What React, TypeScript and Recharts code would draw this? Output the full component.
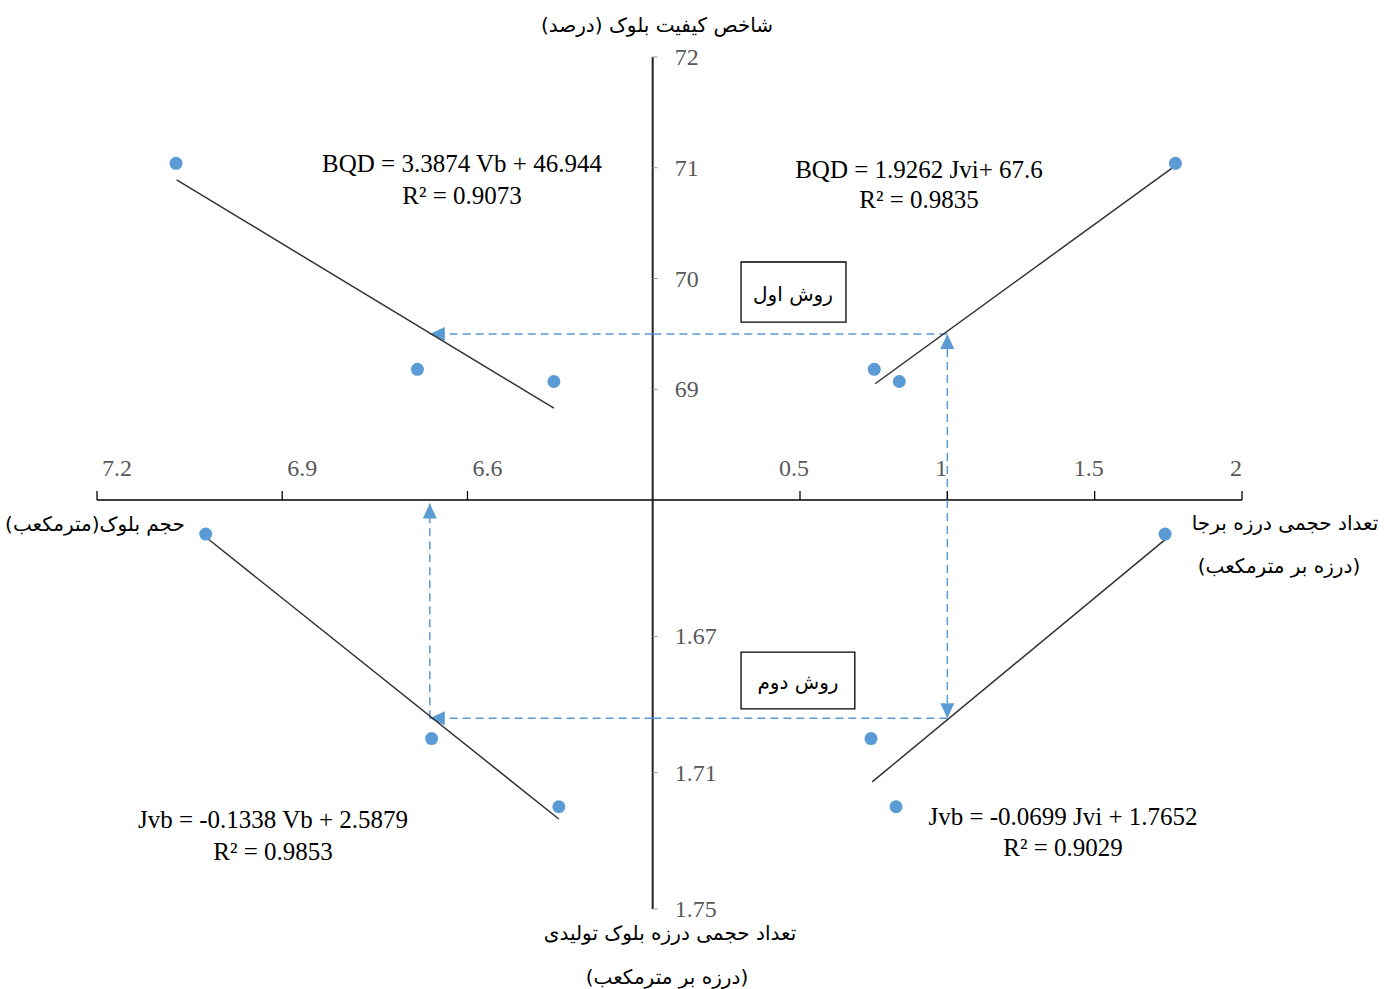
import React from 'react';
import {
  ComposedChart,
  XAxis,
  YAxis,
  Scatter,
  ReferenceLine,
  ReferenceDot,
  ReferenceArea,
} from 'recharts';

// ---------- data ----------
// upper half: block quality designation (BQD, %)
const bqdValues = [71.04, 69.18, 69.07];
const jviUpper = [1.774, 0.752, 0.837]; // in-situ volumetric joint count
const vbUpper = [7.072, 6.681, 6.46]; // block volume (m3)
// lower half: volumetric joint count of produced block (Jvb)
const jvbValues = [1.64, 1.7, 1.72];
const jviLower = [1.739, 0.741, 0.826];
const vbLower = [7.024, 6.658, 6.452];

// trend line end points
const trendBqdJvi = [
  { jvi: 0.755, bqd: 69.05 },
  { jvi: 1.774, bqd: 71.02 },
];
const trendBqdVb = [
  { vb: 7.071, bqd: 70.89 },
  { vb: 6.46, bqd: 68.83 },
];
const trendJvbJvi = [
  { jvi: 0.745, jvb: 1.7127 },
  { jvi: 1.742, jvb: 1.6414 },
];
const trendJvbVb = [
  { vb: 7.023, jvb: 1.641 },
  { vb: 6.452, jvb: 1.7236 },
];

// worked example (dashed arrows)
const pickJvi = 1.0;
const pickBqd = 69.5;
const pickJvb = 1.694;
const pickVb = 6.661;

// axis origin values
const bqdOrigin = 68;
const jvbOrigin = 1.63;
const jviOrigin = 0;
const vbOrigin = 6.3;

// tick labels
const bqdTicks = [69, 70, 71, 72];
const jvbTicks = [1.67, 1.71, 1.75];
const jviTicks = [0.5, 1, 1.5, 2];
const vbTicks = [6.6, 6.9, 7.2];

// method boxes
const method1Box = { jvi1: 0.3, jvi2: 0.656, bqd1: 70.149, bqd2: 69.607 };
const method2Box = { jvi1: 0.3, jvi2: 0.686, jvb1: 1.6746, jvb2: 1.6913 };

// texts
const titleTop = 'شاخص کیفیت بلوک (درصد)';
const titleLeft = 'حجم بلوک(مترمکعب)';
const titleRight1 = 'تعداد حجمی درزه برجا';
const titleRight2 = '(درزه بر مترمکعب)';
const titleBottom1 = 'تعداد حجمی درزه بلوک تولیدی';
const titleBottom2 = '(درزه بر مترمکعب)';
const method1Label = 'روش اول';
const method2Label = 'روش دوم';
const eqTL = ['BQD = 3.3874 Vb + 46.944', 'R² = 0.9073'];
const eqTR = ['BQD = 1.9262 Jvi+ 67.6', 'R² = 0.9835'];
const eqBL = ['Jvb = -0.1338 Vb + 2.5879', 'R² = 0.9853'];
const eqBR = ['Jvb = -0.0699 Jvi + 1.7652', 'R² = 0.9029'];

// ---------- build point tables ----------
const ptsBqdJvi = bqdValues.map((b, i) => ({ jvi: jviUpper[i], bqd: b }));
const ptsBqdVb = bqdValues.map((b, i) => ({ vb: vbUpper[i], bqd: b }));
const ptsJvbJvi = jvbValues.map((j, i) => ({ jvi: jviLower[i], jvb: j }));
const ptsJvbVb = jvbValues.map((j, i) => ({ vb: vbLower[i], jvb: j }));

// ---------- layout ----------
const W = 1390;
const H = 989;
const MARGIN = { top: 57, right: 148, bottom: 80, left: 97 };
const CROSS_X = 0.4853; // fraction of plot width where the axes cross
const CROSS_Y = 0.52; // fraction of plot height where the axes cross
const jviDomain = [-2 * CROSS_X / (1 - CROSS_X), 2];
const vbDomain = [7.2 - 0.9 / CROSS_X, 7.2];
const bqdDomain = [72 - 4 / CROSS_Y, 72];
const jvbDomain = [1.5, 1.75];

const BLUE = '#5B9BD5';
const SERIF = "'Liberation Serif', 'Times New Roman', serif";
const FA = "'DejaVu Sans', sans-serif";

const Dot = (p: any) => <circle cx={p.cx} cy={p.cy} r={6.5} fill={BLUE} />;
const NoDot = () => <g />;

const arrow = (dir: 'up' | 'down' | 'left') => (p: any) => {
  const { cx, cy } = p;
  let pts = '';
  if (dir === 'up') pts = `${cx},${cy} ${cx - 7},${cy + 15} ${cx + 7},${cy + 15}`;
  if (dir === 'down') pts = `${cx},${cy} ${cx - 7},${cy - 15} ${cx + 7},${cy - 15}`;
  if (dir === 'left') pts = `${cx},${cy} ${cx + 15},${cy - 7} ${cx + 15},${cy + 7}`;
  return <polygon points={pts} fill={BLUE} />;
};

const hTick = (label: string, dx: number) => (p: any) => (
  <g>
    <line x1={p.cx} y1={p.cy} x2={p.cx} y2={p.cy - 9} stroke="#000" strokeWidth={1.3} />
    <text
      x={p.cx + dx}
      y={p.cy - 32}
      textAnchor="middle"
      dominantBaseline="central"
      fontFamily={SERIF}
      fontSize={24}
      fill="#595959"
    >
      {label}
    </text>
  </g>
);

const vTick = (label: string) => (p: any) => (
  <g>
    <line x1={p.cx} y1={p.cy} x2={p.cx + 5} y2={p.cy} stroke="#999" strokeWidth={1} />
    <text
      x={p.cx + 22}
      y={p.cy}
      textAnchor="start"
      dominantBaseline="central"
      fontFamily={SERIF}
      fontSize={24}
      fill="#595959"
    >
      {label}
    </text>
  </g>
);

const T = ({ x, y, children, fa, size }: any) => (
  <div
    style={{
      position: 'absolute',
      left: x,
      top: y,
      transform: 'translate(-50%, -50%)',
      whiteSpace: 'nowrap',
      lineHeight: 1,
      fontFamily: fa ? FA : SERIF,
      fontSize: size || 25,
      color: '#000',
      direction: fa ? 'rtl' : 'ltr',
    }}
  >
    {children}
  </div>
);

const dash = { stroke: BLUE, strokeWidth: 1.5, strokeDasharray: '8 5' };

export default function App() {
  return (
    <div style={{ position: 'relative', width: W, height: H, background: '#fff' }}>
      <style>{'body{margin:0;}'}</style>
      <ComposedChart width={W} height={H} margin={MARGIN}>
        <XAxis xAxisId="jvi" dataKey="jvi" type="number" domain={jviDomain} allowDataOverflow hide />
        <XAxis xAxisId="vb" dataKey="vb" type="number" domain={vbDomain} reversed allowDataOverflow hide />
        <YAxis yAxisId="bqd" dataKey="bqd" type="number" domain={bqdDomain} allowDataOverflow hide />
        <YAxis yAxisId="jvb" dataKey="jvb" type="number" domain={jvbDomain} reversed allowDataOverflow hide />

        {/* method boxes */}
        <ReferenceArea
          xAxisId="jvi"
          yAxisId="bqd"
          x1={method1Box.jvi1}
          x2={method1Box.jvi2}
          y1={method1Box.bqd1}
          y2={method1Box.bqd2}
          fill="#fff"
          fillOpacity={1}
          stroke="#000"
          strokeWidth={1.3}
          ifOverflow="visible"
        />
        <ReferenceArea
          xAxisId="jvi"
          yAxisId="jvb"
          x1={method2Box.jvi1}
          x2={method2Box.jvi2}
          y1={method2Box.jvb1}
          y2={method2Box.jvb2}
          fill="#fff"
          fillOpacity={1}
          stroke="#000"
          strokeWidth={1.3}
          ifOverflow="visible"
        />

        {/* central axes */}
        <ReferenceLine xAxisId="jvi" yAxisId="bqd" y={bqdOrigin} stroke="#000" strokeWidth={1.5} ifOverflow="visible" />
        <ReferenceLine xAxisId="jvi" yAxisId="bqd" x={jviOrigin} stroke="#222" strokeWidth={2} ifOverflow="visible" />

        {/* ticks */}
        {jviTicks.map((t) => (
          <ReferenceDot key={'jt' + t} xAxisId="jvi" yAxisId="bqd" x={t} y={bqdOrigin} ifOverflow="visible" shape={hTick(String(t), -6)} />
        ))}
        {vbTicks.map((t) => (
          <ReferenceDot key={'vt' + t} xAxisId="vb" yAxisId="bqd" x={t} y={bqdOrigin} ifOverflow="visible" shape={hTick(String(t), 20)} />
        ))}
        {bqdTicks.map((t) => (
          <ReferenceDot key={'bt' + t} xAxisId="jvi" yAxisId="bqd" x={jviOrigin} y={t} ifOverflow="visible" shape={vTick(String(t))} />
        ))}
        {jvbTicks.map((t) => (
          <ReferenceDot key={'jb' + t} xAxisId="jvi" yAxisId="jvb" x={jviOrigin} y={t} ifOverflow="visible" shape={vTick(String(t))} />
        ))}

        {/* dashed example paths */}
        <ReferenceLine xAxisId="jvi" yAxisId="bqd" segment={[{ x: pickJvi, y: bqdOrigin }, { x: pickJvi, y: pickBqd }]} {...dash} ifOverflow="visible" />
        <ReferenceLine xAxisId="jvi" yAxisId="bqd" segment={[{ x: pickJvi, y: pickBqd }, { x: jviOrigin, y: pickBqd }]} {...dash} ifOverflow="visible" />
        <ReferenceLine xAxisId="vb" yAxisId="bqd" segment={[{ x: vbOrigin, y: pickBqd }, { x: pickVb, y: pickBqd }]} {...dash} ifOverflow="visible" />
        <ReferenceLine xAxisId="jvi" yAxisId="jvb" segment={[{ x: pickJvi, y: jvbOrigin }, { x: pickJvi, y: pickJvb }]} {...dash} ifOverflow="visible" />
        <ReferenceLine xAxisId="jvi" yAxisId="jvb" segment={[{ x: pickJvi, y: pickJvb }, { x: jviOrigin, y: pickJvb }]} {...dash} ifOverflow="visible" />
        <ReferenceLine xAxisId="vb" yAxisId="jvb" segment={[{ x: vbOrigin, y: pickJvb }, { x: pickVb, y: pickJvb }]} {...dash} ifOverflow="visible" />
        <ReferenceLine xAxisId="vb" yAxisId="jvb" segment={[{ x: pickVb, y: pickJvb }, { x: pickVb, y: 1.631 }]} {...dash} ifOverflow="visible" />

        {/* arrow heads */}
        <ReferenceDot xAxisId="jvi" yAxisId="bqd" x={pickJvi} y={pickBqd} ifOverflow="visible" shape={arrow('up')} />
        <ReferenceDot xAxisId="vb" yAxisId="bqd" x={pickVb} y={pickBqd} ifOverflow="visible" shape={arrow('left')} />
        <ReferenceDot xAxisId="jvi" yAxisId="jvb" x={pickJvi} y={pickJvb} ifOverflow="visible" shape={arrow('down')} />
        <ReferenceDot xAxisId="vb" yAxisId="jvb" x={pickVb} y={pickJvb} ifOverflow="visible" shape={arrow('left')} />
        <ReferenceDot xAxisId="vb" yAxisId="jvb" x={pickVb} y={1.631} ifOverflow="visible" shape={arrow('up')} />

        {/* trend lines */}
        <Scatter xAxisId="jvi" yAxisId="bqd" data={trendBqdJvi} line={{ stroke: '#333', strokeWidth: 1.5 }} shape={NoDot} isAnimationActive={false} />
        <Scatter xAxisId="vb" yAxisId="bqd" data={trendBqdVb} line={{ stroke: '#333', strokeWidth: 1.5 }} shape={NoDot} isAnimationActive={false} />
        <Scatter xAxisId="jvi" yAxisId="jvb" data={trendJvbJvi} line={{ stroke: '#333', strokeWidth: 1.5 }} shape={NoDot} isAnimationActive={false} />
        <Scatter xAxisId="vb" yAxisId="jvb" data={trendJvbVb} line={{ stroke: '#333', strokeWidth: 1.5 }} shape={NoDot} isAnimationActive={false} />

        {/* data points */}
        <Scatter xAxisId="jvi" yAxisId="bqd" data={ptsBqdJvi} shape={Dot} isAnimationActive={false} />
        <Scatter xAxisId="vb" yAxisId="bqd" data={ptsBqdVb} shape={Dot} isAnimationActive={false} />
        <Scatter xAxisId="jvi" yAxisId="jvb" data={ptsJvbJvi} shape={Dot} isAnimationActive={false} />
        <Scatter xAxisId="vb" yAxisId="jvb" data={ptsJvbVb} shape={Dot} isAnimationActive={false} />
      </ComposedChart>

      {/* titles */}
      <T x={657} y={25} fa size={20}>{titleTop}</T>
      <T x={95} y={524} fa size={20}>{titleLeft}</T>
      <T x={1285} y={523} fa size={20}>{titleRight1}</T>
      <T x={1279} y={566} fa size={20}>{titleRight2}</T>
      <T x={670} y={933} fa size={20}>{titleBottom1}</T>
      <T x={667} y={977} fa size={20}>{titleBottom2}</T>
      <T x={793} y={294} fa size={20}>{method1Label}</T>
      <T x={798} y={682} fa size={20}>{method2Label}</T>

      {/* equations */}
      <T x={462} y={163}>{eqTL[0]}</T>
      <T x={462} y={195}>{eqTL[1]}</T>
      <T x={919} y={169}>{eqTR[0]}</T>
      <T x={919} y={199}>{eqTR[1]}</T>
      <T x={273} y={819}>{eqBL[0]}</T>
      <T x={273} y={851}>{eqBL[1]}</T>
      <T x={1063} y={816}>{eqBR[0]}</T>
      <T x={1063} y={847}>{eqBR[1]}</T>
    </div>
  );
}
